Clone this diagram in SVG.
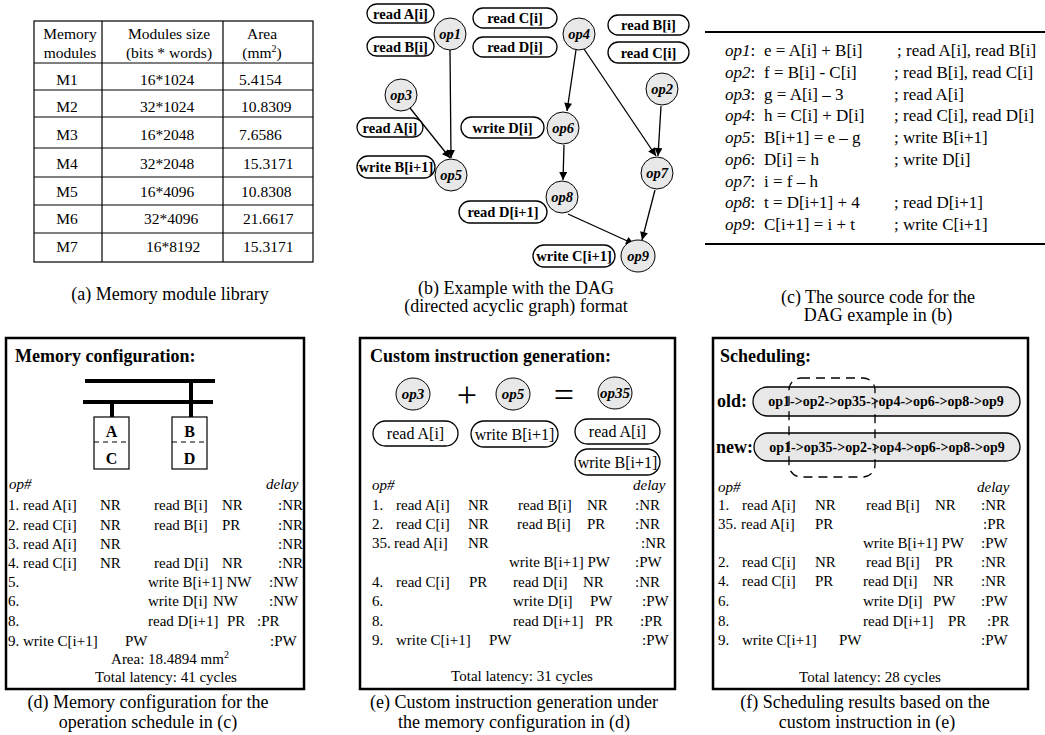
<svg xmlns="http://www.w3.org/2000/svg" width="1045" height="735" viewBox="0 0 1045 735">
<style>
text{font-family:"Liberation Serif","Times New Roman",serif;font-size:15px;fill:#000}
.cap{font-size:18px;text-anchor:middle}
.tb{font-size:15.5px}
.code{font-size:17px}
.f16{font-size:16px}
.big{font-size:36px;text-anchor:middle}
.mid{text-anchor:middle}
.b{font-weight:bold}
.i{font-style:italic}
.lbl{font-weight:bold;font-size:14.5px;text-anchor:middle}
.op{font-weight:bold;font-style:italic;font-size:14.5px;text-anchor:middle}
.op15{font-weight:bold;font-style:italic;font-size:15px;text-anchor:middle}
.node{fill:#e8e8e8;stroke:#000;stroke-width:1}
.pill{fill:#fff;stroke:#000;stroke-width:1.3}
.gpill{fill:#e8e8e8;stroke:#000;stroke-width:1.3}
.edge{stroke:#000;stroke-width:1.3;fill:none;marker-end:url(#arr)}
.panel{fill:none;stroke:#000;stroke-width:2.5}
.grid{stroke:#000;stroke-width:1.2;fill:none}
.bus{stroke:#000;stroke-width:4;fill:none}
.hd{font-weight:bold;font-size:18px}
.mem{font-weight:bold;font-size:16px;text-anchor:middle}
.seq{font-weight:bold;font-size:14px;text-anchor:middle}
</style>
<defs>
<marker id="arr" viewBox="0 0 10 10" refX="10" refY="5" markerWidth="9" markerHeight="8" markerUnits="userSpaceOnUse" orient="auto">
<path d="M0,0 L10,5 L0,10 z" fill="#000"/>
</marker>
</defs>
<rect width="1045" height="735" fill="#fff"/>

<!-- (a) table -->
<g id="table-a">
<rect class="grid" x="34" y="21" width="279" height="241" stroke-width="1.5"/>
<path class="grid" d="M102,21V262 M223,21V262 M34,63H313 M34,90H313 M34,117H313 M34,148H313 M34,177H313 M34,205H313 M34,233H313"/>
<text class="tb mid" x="70" y="38.5">Memory</text>
<text class="tb mid" x="70" y="58">modules</text>
<text class="tb mid" x="169" y="38.5">Modules size</text>
<text class="tb mid" x="169" y="58">(bits * words)</text>
<text class="tb mid" x="262" y="38.5">Area</text>
<text class="tb mid" x="262" y="58">(mm<tspan dy="-6" font-size="10">2</tspan><tspan dy="6">)</tspan></text>
<text class="tb mid" x="67" y="85">M1</text><text class="tb mid" x="167" y="85">16*1024</text><text class="tb" x="239" y="85">5.4154</text>
<text class="tb mid" x="67" y="112">M2</text><text class="tb mid" x="167" y="112">32*1024</text><text class="tb" x="241" y="112">10.8309</text>
<text class="tb mid" x="67" y="140">M3</text><text class="tb mid" x="167" y="140">16*2048</text><text class="tb" x="239" y="140">7.6586</text>
<text class="tb mid" x="67" y="169">M4</text><text class="tb mid" x="167" y="169">32*2048</text><text class="tb" x="243" y="169">15.3171</text>
<text class="tb mid" x="67" y="197">M5</text><text class="tb mid" x="167" y="197">16*4096</text><text class="tb" x="241" y="197">10.8308</text>
<text class="tb mid" x="67" y="224">M6</text><text class="tb mid" x="171" y="224">32*4096</text><text class="tb" x="243" y="224">21.6617</text>
<text class="tb mid" x="67" y="252">M7</text><text class="tb mid" x="173" y="252">16*8192</text><text class="tb" x="243" y="252">15.3171</text>
<text class="cap" x="170" y="300">(a) Memory module library</text>
</g>

<!-- (b) DAG -->
<g id="connectors">
<path class="edge" d="M450,50 L451,158"/>
<path class="edge" d="M410,108 L450,158"/>
<path class="edge" d="M576,50 L567,111"/>
<path class="edge" d="M584,49 L656,156"/>
<path class="edge" d="M661,106 L658,156"/>
<path class="edge" d="M564,145 L563,180"/>
<path class="edge" d="M568,214 L634,244"/>
<path class="edge" d="M655,190 L642,240"/>
</g>
<g id="lbl-readA1"><rect class="pill" x="367" y="4" width="67" height="19" rx="9.5"/><text class="lbl" x="400.5" y="18.5">read A[i]</text></g>
<g id="lbl-readB1"><rect class="pill" x="367" y="37" width="67" height="19" rx="9.5"/><text class="lbl" x="400.5" y="51.5">read B[i]</text></g>
<g id="lbl-readC4"><rect class="pill" x="473" y="8" width="84" height="20" rx="10"/><text class="lbl" x="515" y="23">read C[i]</text></g>
<g id="lbl-readD4"><rect class="pill" x="473" y="37" width="84" height="20" rx="10"/><text class="lbl" x="515" y="52">read D[i]</text></g>
<g id="lbl-readB2"><rect class="pill" x="608" y="15" width="81" height="20" rx="10"/><text class="lbl" x="648.5" y="30">read B[i]</text></g>
<g id="lbl-readC2"><rect class="pill" x="608" y="42" width="81" height="21" rx="10.5"/><text class="lbl" x="648.5" y="57.5">read C[i]</text></g>
<g id="lbl-readA3"><rect class="pill" x="357" y="118" width="66" height="19" rx="9.5"/><text class="lbl" x="390" y="132.5">read A[i]</text></g>
<g id="lbl-writeB5"><rect class="pill" x="357" y="156" width="78" height="22" rx="11"/><text class="lbl" x="396" y="172">write B[i+1]</text></g>
<g id="lbl-writeD6"><rect class="pill" x="461" y="117" width="83" height="21" rx="10.5"/><text class="lbl" x="502.5" y="132.5">write D[i]</text></g>
<g id="lbl-readD8"><rect class="pill" x="459" y="201" width="88" height="22" rx="11"/><text class="lbl" x="503" y="217">read D[i+1]</text></g>
<g id="lbl-writeC9"><rect class="pill" x="533" y="245" width="82" height="22" rx="11"/><text class="lbl" x="574" y="261">write C[i+1]</text></g>
<g id="op1"><ellipse class="node" cx="450" cy="34" rx="16" ry="16"/><text class="op" x="450" y="39">op1</text></g>
<g id="op4"><ellipse class="node" cx="579" cy="34" rx="16" ry="16"/><text class="op" x="579" y="39">op4</text></g>
<g id="op2"><ellipse class="node" cx="662" cy="89" rx="16" ry="16"/><text class="op" x="662" y="94">op2</text></g>
<g id="op3"><ellipse class="node" cx="401" cy="95" rx="16" ry="16"/><text class="op" x="401" y="100">op3</text></g>
<g id="op6"><ellipse class="node" cx="563" cy="128" rx="16" ry="16"/><text class="op" x="563" y="133">op6</text></g>
<g id="op5"><ellipse class="node" cx="451" cy="175" rx="16" ry="16"/><text class="op" x="451" y="180">op5</text></g>
<g id="op7"><ellipse class="node" cx="657" cy="173" rx="16" ry="16"/><text class="op" x="657" y="178">op7</text></g>
<g id="op8"><ellipse class="node" cx="562" cy="197" rx="16" ry="16"/><text class="op" x="562" y="202">op8</text></g>
<g id="op9"><ellipse class="node" cx="638" cy="256" rx="17" ry="16"/><text class="op" x="638" y="261">op9</text></g>
<g id="caption-b">
<text class="cap" x="516" y="294">(b) Example with the DAG</text>
<text class="cap" x="516" y="312">(directed acyclic graph) format</text>
</g>

<!-- (c) code -->
<g id="code-c">
<path d="M705,32H1045 M705,244H1045" stroke="#000" stroke-width="2" fill="none"/>
<text class="code" x="725" y="56"><tspan class="i">op1</tspan>:</text><text class="code" x="764" y="56">e = A[i] + B[i]</text><text class="code" x="897" y="56">; read A[i], read B[i]</text>
<text class="code" x="725" y="77.75"><tspan class="i">op2</tspan>:</text><text class="code" x="764" y="77.75">f = B[i] - C[i]</text><text class="code" x="894" y="77.75">; read B[i], read C[i]</text>
<text class="code" x="725" y="99.5"><tspan class="i">op3</tspan>:</text><text class="code" x="764" y="99.5">g = A[i]  –  3</text><text class="code" x="894" y="99.5">; read A[i]</text>
<text class="code" x="725" y="121.25"><tspan class="i">op4</tspan>:</text><text class="code" x="764" y="121.25">h = C[i] + D[i]</text><text class="code" x="894" y="121.25">; read C[i], read D[i]</text>
<text class="code" x="725" y="143"><tspan class="i">op5</tspan>:</text><text class="code" x="764" y="143">B[i+1] = e  –  g</text><text class="code" x="894" y="143">; write B[i+1]</text>
<text class="code" x="725" y="164.75"><tspan class="i">op6</tspan>:</text><text class="code" x="764" y="164.75">D[i] = h</text><text class="code" x="894" y="164.75">; write D[i]</text>
<text class="code" x="725" y="186.5"><tspan class="i">op7</tspan>:</text><text class="code" x="764" y="186.5">i = f  –  h</text>
<text class="code" x="725" y="208.25"><tspan class="i">op8</tspan>:</text><text class="code" x="764" y="208.25">t = D[i+1] + 4</text><text class="code" x="894" y="208.25">; read D[i+1]</text>
<text class="code" x="725" y="230"><tspan class="i">op9</tspan>:</text><text class="code" x="764" y="230">C[i+1] = i + t</text><text class="code" x="894" y="230">; write C[i+1]</text>
<text class="cap" x="878" y="303">(c) The source code for the</text>
<text class="cap" x="878" y="321">DAG example in (b)</text>
</g>

<!-- (d) memory configuration -->
<g id="panel-d">
<rect class="panel" x="6" y="338" width="298" height="351"/>
<text class="hd" x="15" y="362">Memory configuration:</text>
<path class="bus" d="M85,381H215 M83,402H213 M191,381V417 M112,402V417"/>
<rect x="94" y="417" width="35" height="52" fill="#fff" stroke="#000" stroke-width="1.2"/>
<rect x="172" y="417" width="35" height="52" fill="#fff" stroke="#000" stroke-width="1.2"/>
<path d="M94,442H129 M172,442H207" stroke="#000" stroke-width="1.2" stroke-dasharray="5,4"/>
<text class="mem" x="111.5" y="437">A</text>
<text class="mem" x="111.5" y="464">C</text>
<text class="mem" x="189.5" y="437">B</text>
<text class="mem" x="189.5" y="464">D</text>
<text class="i" x="9" y="489">op#</text><text class="i" x="266" y="489">delay</text>
<text x="8" y="510">1. read A[i]</text><text x="100" y="510">NR</text><text x="154" y="510">read B[i]</text><text x="222" y="510">NR</text><text x="278" y="510">:NR</text>
<text x="8" y="529.5">2. read C[i]</text><text x="100" y="529.5">NR</text><text x="154" y="529.5">read B[i]</text><text x="222" y="529.5">PR</text><text x="278" y="529.5">:NR</text>
<text x="8" y="549">3. read A[i]</text><text x="100" y="549">NR</text><text x="278" y="549">:NR</text>
<text x="8" y="568">4. read C[i]</text><text x="100" y="568">NR</text><text x="154" y="568">read D[i]</text><text x="222" y="568">NR</text><text x="278" y="568">:NR</text>
<text x="8" y="587">5.</text><text x="148" y="587">write B[i+1] NW</text><text x="269" y="587">:NW</text>
<text x="8" y="606">6.</text><text x="148" y="606">write D[i]</text><text x="213" y="606">NW</text><text x="269" y="606">:NW</text>
<text x="8" y="626">8.</text><text x="148" y="626">read D[i+1]</text><text x="227" y="626">PR</text><text x="257" y="626">:PR</text>
<text x="8" y="645.5">9. write C[i+1]</text><text x="125" y="645.5">PW</text><text x="270" y="645.5">:PW</text>
<text class="mid" x="170" y="664">Area: 18.4894 mm<tspan dy="-6" font-size="10">2</tspan></text>
<text class="mid" x="166" y="682">Total latency: 41 cycles</text>
<text class="cap" x="148" y="708">(d) Memory configuration for the</text>
<text class="cap" x="148" y="728">operation schedule in (c)</text>
</g>

<!-- (e) custom instruction -->
<g id="panel-e">
<rect class="panel" x="360" y="338" width="315" height="351"/>
<text class="hd" x="370" y="362">Custom instruction generation:</text>
<g id="e-op3"><ellipse class="node" cx="413" cy="394" rx="17" ry="16"/><text class="op15" x="413" y="399">op3</text></g>
<text class="big" x="467" y="407">+</text>
<g id="e-op5"><ellipse class="node" cx="513" cy="394" rx="17" ry="16"/><text class="op15" x="513" y="399">op5</text></g>
<text class="big" x="564" y="407">=</text>
<g id="e-op35"><ellipse class="node" cx="615" cy="393" rx="17" ry="16"/><text class="op15" x="615" y="398">op35</text></g>
<g id="e-l1"><rect class="pill" x="373" y="421" width="85" height="25" rx="12.5"/><text class="f16 mid" x="415.5" y="439">read A[i]</text></g>
<g id="e-l2"><rect class="pill" x="471" y="421" width="87" height="26" rx="13"/><text class="f16 mid" x="514.5" y="439.5">write B[i+1]</text></g>
<g id="e-l3"><rect class="pill" x="575" y="419" width="85" height="25" rx="12.5"/><text class="f16 mid" x="617.5" y="437">read A[i]</text></g>
<g id="e-l4"><rect class="pill" x="575" y="449" width="85" height="26" rx="13"/><text class="f16 mid" x="617.5" y="467.5">write B[i+1]</text></g>
<text class="i" x="372" y="490">op#</text><text class="i" x="633" y="490">delay</text>
<text x="372" y="510">1.</text><text x="396" y="510">read A[i]</text><text x="468" y="510">NR</text><text x="518" y="510">read B[i]</text><text x="587" y="510">NR</text><text x="635" y="510">:NR</text>
<text x="372" y="529">2.</text><text x="396" y="529">read C[i]</text><text x="468" y="529">NR</text><text x="517" y="529">read B[i]</text><text x="587" y="529">PR</text><text x="635" y="529">:NR</text>
<text x="372" y="548">35.</text><text x="394" y="548">read A[i]</text><text x="468" y="548">NR</text><text x="641" y="548">:NR</text>
<text x="509" y="567">write B[i+1] PW</text><text x="635" y="567">:PW</text>
<text x="372" y="587">4.</text><text x="396" y="587">read C[i]</text><text x="469" y="587">PR</text><text x="513" y="587">read D[i]</text><text x="583" y="587">NR</text><text x="635" y="587">:NR</text>
<text x="372" y="606">6.</text><text x="513" y="606">write D[i]</text><text x="590" y="606">PW</text><text x="642" y="606">:PW</text>
<text x="372" y="626">8.</text><text x="513" y="626">read D[i+1]</text><text x="595" y="626">PR</text><text x="640" y="626">:PR</text>
<text x="372" y="645">9.</text><text x="396" y="645">write C[i+1]</text><text x="489" y="645">PW</text><text x="642" y="645">:PW</text>
<text class="mid" x="522" y="681">Total latency: 31 cycles</text>
<text class="cap" x="514" y="708">(e) Custom instruction generation under</text>
<text class="cap" x="514" y="728">the memory configuration in (d)</text>
</g>

<!-- (f) scheduling -->
<g id="panel-f">
<rect class="panel" x="713" y="338" width="315" height="351"/>
<text class="hd" x="720" y="362">Scheduling:</text>
<text class="hd" x="717" y="407">old:</text>
<g id="f-old"><rect class="gpill" x="753" y="387" width="267" height="29" rx="14.5"/><text class="seq" x="886" y="406">op1->op2->op35->op4->op6->op8->op9</text></g>
<text class="hd" x="716" y="453">new:</text>
<g id="f-new"><rect class="gpill" x="754" y="433" width="266" height="28" rx="14"/><text class="seq" x="887" y="452">op1->op35->op2->op4->op6->op8->op9</text></g>
<rect id="f-group" x="789" y="378" width="86" height="99" rx="12" fill="none" stroke="#000" stroke-width="1.3" stroke-dasharray="9,6"/>
<text class="i" x="718" y="492">op#</text><text class="i" x="977" y="492">delay</text>
<text x="718" y="510">1.</text><text x="742" y="510">read A[i]</text><text x="815" y="510">NR</text><text x="866" y="510">read B[i]</text><text x="935" y="510">NR</text><text x="981" y="510">:NR</text>
<text x="718" y="529">35.</text><text x="741" y="529">read A[i]</text><text x="815" y="529">PR</text><text x="983" y="529">:PR</text>
<text x="863" y="548">write B[i+1] PW</text><text x="981" y="548">:PW</text>
<text x="718" y="567">2.</text><text x="742" y="567">read C[i]</text><text x="815" y="567">NR</text><text x="866" y="567">read B[i]</text><text x="935" y="567">PR</text><text x="981" y="567">:NR</text>
<text x="718" y="586">4.</text><text x="742" y="586">read C[i]</text><text x="815" y="586">PR</text><text x="863" y="586">read D[i]</text><text x="933" y="586">NR</text><text x="981" y="586">:NR</text>
<text x="718" y="606">6.</text><text x="863" y="606">write D[i]</text><text x="933" y="606">PW</text><text x="981" y="606">:PW</text>
<text x="718" y="626">8.</text><text x="863" y="626">read D[i+1]</text><text x="948" y="626">PR</text><text x="987" y="626">:PR</text>
<text x="718" y="645">9.</text><text x="742" y="645">write C[i+1]</text><text x="839" y="645">PW</text><text x="981" y="645">:PW</text>
<text class="mid" x="870" y="682">Total latency: 28 cycles</text>
<text class="cap" x="865" y="708">(f) Scheduling results based on the</text>
<text class="cap" x="867" y="728">custom instruction in (e)</text>
</g>
</svg>
